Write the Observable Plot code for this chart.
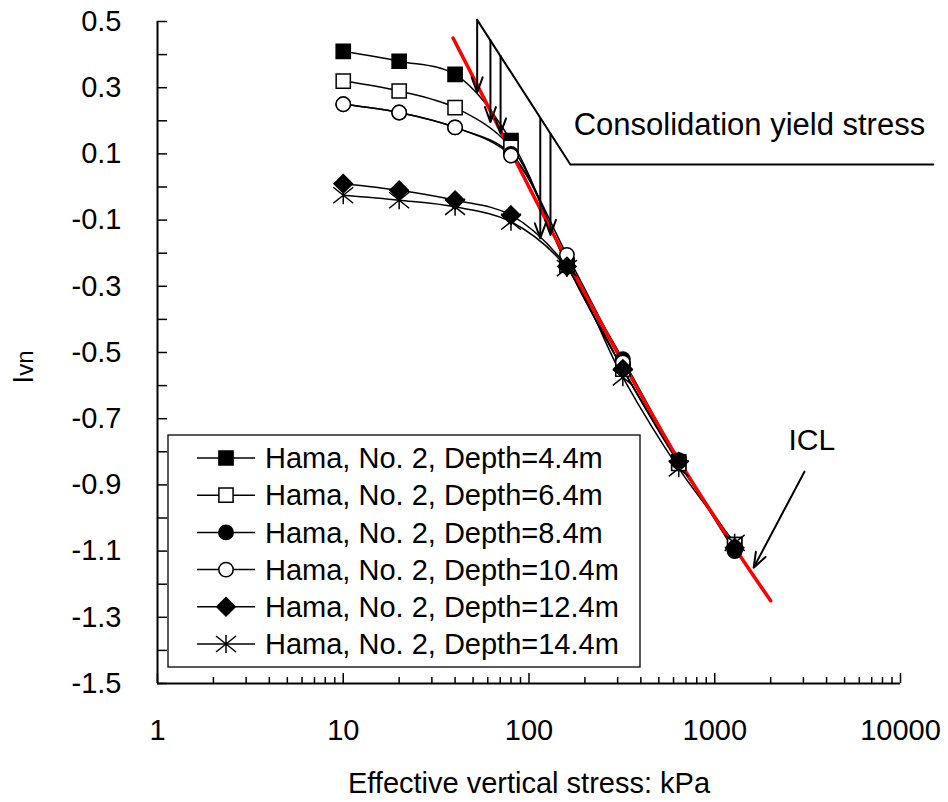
<!DOCTYPE html>
<html>
<head>
<meta charset="utf-8">
<script src="https://cdn.jsdelivr.net/npm/d3@7"></script>
<script src="https://cdn.jsdelivr.net/npm/@observablehq/plot@0.6"></script>
<style>
  html, body { margin: 0; padding: 0; background: #fff; }
  #chart svg { display: block; }
</style>
</head>
<body>
<div id="chart"></div>
<script>
// ---- data ----
const stress = [10, 20, 40, 80, 160, 320, 640, 1280];
const depthLabels = [
  "Hama, No. 2, Depth=4.4m",
  "Hama, No. 2, Depth=6.4m",
  "Hama, No. 2, Depth=8.4m",
  "Hama, No. 2, Depth=10.4m",
  "Hama, No. 2, Depth=12.4m",
  "Hama, No. 2, Depth=14.4m"
];
const ivn44  = [0.41, 0.38, 0.34, 0.14, -0.235, -0.55, -0.83, -1.08];
const ivn64  = [0.32, 0.29, 0.24, 0.12, -0.235, -0.55, -0.835, -1.08];
const ivn84  = [0.25, 0.225, 0.18, 0.10, -0.225, -0.52, -0.825, -1.10];
const ivn104 = [0.25, 0.225, 0.18, 0.095, -0.205, -0.53, -0.83, -1.09];
const ivn124 = [0.01, -0.01, -0.04, -0.085, -0.24, -0.55, -0.83, -1.09];
const ivn144 = [-0.025, -0.04, -0.06, -0.105, -0.245, -0.575, -0.85, -1.075];

// intrinsic compression line
const iclStress = [39, 57, 100, 160, 320, 640, 1280, 2000];
const iclIvn    = [0.45, 0.27, 0.0, -0.22, -0.53, -0.825, -1.09, -1.25];

// consolidation yield stress arrows
const yieldStress = [52.6, 62, 70.3, 115, 130.5];
const yieldTop    = [0.505, 0.443, 0.396, 0.207, 0.161];
const yieldBottom = [0.286, 0.196, 0.162, -0.155, -0.145];

// leader line for the "Consolidation yield stress" label
const leaderStress = [52.6, 167, 15000];
const leaderIvn    = [0.505, 0.068, 0.068];

// ICL pointer
const iclArrowFrom = [3040, -0.86];
const iclArrowTo   = [1620, -1.15];

// ticks
const xMajor = [1, 10, 100, 1000, 10000];
const xMinor = [2,3,4,5,6,7,8,9, 20,30,40,50,60,70,80,90, 200,300,400,500,600,700,800,900, 2000,3000,4000,5000,6000,7000,8000,9000];
const yLabelTicks = [0.5, 0.3, 0.1, -0.1, -0.3, -0.5, -0.7, -0.9, -1.1, -1.3, -1.5];
const yAllTicks = [0.5,0.4,0.3,0.2,0.1,0,-0.1,-0.2,-0.3,-0.4,-0.5,-0.6,-0.7,-0.8,-0.9,-1.0,-1.1,-1.2,-1.3,-1.4,-1.5];

// ---- layout ----
const W = 948, H = 802;
const mL = 157, mR = 48, mT = 21, mB = 119;
const plotW = W - mL - mR, plotH = H - mT - mB;
const FONT = "'Liberation Sans', Arial, Helvetica, sans-serif";

// custom asterisk: X plus vertical bar
const asteriskX = {
  draw(ctx, size) {
    const r = Math.sqrt(size / Math.PI);
    ctx.moveTo(-r, -0.8 * r); ctx.lineTo(r, 0.8 * r);
    ctx.moveTo(-r, 0.8 * r); ctx.lineTo(r, -0.8 * r);
    ctx.moveTo(0, -0.9 * r); ctx.lineTo(0, 0.9 * r);
  }
};

const seriesVals = [ivn44, ivn64, ivn84, ivn104, ivn124, ivn144];
const seriesStyle = [
  {symbol: d3.symbolSquare,   fill: "black", stroke: "black", r: 8},
  {symbol: d3.symbolSquare,   fill: "white", stroke: "black", r: 8},
  {symbol: d3.symbolCircle,   fill: "black", stroke: "black", r: 7.2},
  {symbol: d3.symbolCircle,   fill: "white", stroke: "black", r: 7.2},
  {symbol: d3.symbolDiamond2 || d3.symbolDiamond, fill: "black", stroke: "black", r: 8.3},
  {symbol: asteriskX,         fill: "none",  stroke: "black", r: 10}
];

const rows = [];
seriesVals.forEach((vals, s) => {
  vals.forEach((v, i) => rows.push({s, x: stress[i], y: v}));
});
const icl = iclStress.map((x, i) => ({x, y: iclIvn[i]}));
const arrows = yieldStress.map((x, i) => ({x, y1: yieldTop[i], y2: yieldBottom[i]}));
const leader = leaderStress.map((x, i) => ({x, y: leaderIvn[i]}));

const lineMarks = seriesVals.map((vals, s) =>
  Plot.line(rows.filter(d => d.s === s), {x: "x", y: "y", stroke: "black", strokeWidth: 1.5, curve: "catmull-rom"})
);
const dotMarks = seriesVals.map((vals, s) =>
  Plot.dot(rows.filter(d => d.s === s), {
    x: "x", y: "y",
    symbol: seriesStyle[s].symbol, r: seriesStyle[s].r,
    fill: seriesStyle[s].fill, stroke: seriesStyle[s].stroke, strokeWidth: 1.5
  })
);

const chart = Plot.plot({
  width: W, height: H,
  marginLeft: mL, marginRight: mR, marginTop: mT, marginBottom: mB,
  style: {fontFamily: FONT, background: "white", color: "black", overflow: "visible"},
  x: {type: "log", domain: [1, 10000]},
  y: {domain: [-1.5, 0.5]},
  marks: [
    // axes frame lines
    Plot.ruleX([1], {y1: -1.5, y2: 0.5, stroke: "black", strokeWidth: 2}),
    Plot.ruleY([-1.5], {x1: 1, x2: 10000, stroke: "black", strokeWidth: 2}),
    Plot.tickY(yAllTicks, {y: d => d, insetRight: plotW - 10, stroke: "black", strokeWidth: 1.5}),
    Plot.tickX(xMajor, {x: d => d, insetTop: plotH - 10, stroke: "black", strokeWidth: 1.5}),
    Plot.tickX(xMinor, {x: d => d, insetTop: plotH - 6, stroke: "black", strokeWidth: 1.5}),
    Plot.axisY(yLabelTicks, {tickSize: 0, tickPadding: 36, fontSize: 29, tickFormat: d => d.toFixed(1), label: null}),
    Plot.axisX(xMajor, {tickSize: 0, tickPadding: 36, fontSize: 29, tickFormat: d => String(d), label: null}),
    Plot.text(["Effective vertical stress: kPa"], {frameAnchor: "bottom", dy: 109, lineAnchor: "bottom", fontSize: 29}),

    // data curves
    ...lineMarks,
    Plot.line(icl, {x: "x", y: "y", stroke: "#ff0000", strokeWidth: 3.5, curve: "catmull-rom"}),
    ...dotMarks,

    // yield stress annotation
    Plot.line(leader, {x: "x", y: "y", stroke: "black", strokeWidth: 2}),
    Plot.arrow(arrows, {x1: "x", x2: "x", y1: "y1", y2: "y2", stroke: "black", strokeWidth: 2, headLength: 12, headAngle: 40}),
    Plot.text(["Consolidation yield stress"], {x: 174, y: 0.156, textAnchor: "start", lineAnchor: "bottom", fontSize: 31}),

    // ICL annotation
    Plot.arrow([0], {x1: iclArrowFrom[0], y1: iclArrowFrom[1], x2: iclArrowTo[0], y2: iclArrowTo[1], stroke: "black", strokeWidth: 2, headLength: 12, headAngle: 40}),
    Plot.text(["ICL"], {x: 2495, y: -0.796, textAnchor: "start", lineAnchor: "bottom", fontSize: 30})
  ]
});

document.getElementById("chart").appendChild(chart);

// y-axis label (rotated, I with vn)
const svg = d3.select(chart);
const ylab = svg.append("text")
  .attr("transform", "translate(33,367) rotate(-90)")
  .attr("text-anchor", "middle")
  .attr("font-family", FONT)
  .attr("fill", "black");
ylab.append("tspan").attr("font-size", 29).text("I");
ylab.append("tspan").attr("font-size", 24).text("vn");

// legend box
const lg = svg.append("g").attr("font-family", FONT).attr("text-anchor", "start");
lg.append("rect")
  .attr("x", 168).attr("y", 435).attr("width", 472).attr("height", 232)
  .attr("fill", "white").attr("stroke", "black").attr("stroke-width", 1.3);
depthLabels.forEach((lab, s) => {
  const cy = 458 + s * 37.2;
  const st = seriesStyle[s];
  lg.append("line").attr("x1", 197).attr("x2", 255).attr("y1", cy).attr("y2", cy)
    .attr("stroke", "black").attr("stroke-width", 1.5);
  lg.append("path")
    .attr("transform", `translate(226,${cy})`)
    .attr("d", d3.symbol(st.symbol, st.r * st.r * Math.PI)())
    .attr("fill", st.fill).attr("stroke", st.stroke).attr("stroke-width", 1.5);
  lg.append("text").attr("x", 265).attr("y", cy).attr("dy", "0.35em")
    .attr("text-anchor", "start")
    .attr("font-size", 29).attr("fill", "black").text(lab);
});
</script>
</body>
</html>
